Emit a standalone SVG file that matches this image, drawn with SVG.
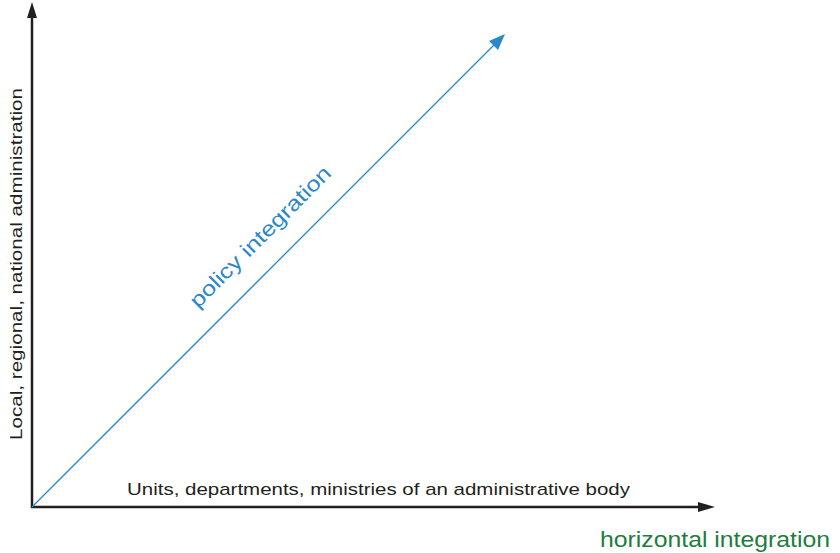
<svg xmlns="http://www.w3.org/2000/svg" width="840" height="553" viewBox="0 0 840 553">
  <style>
    .axis { stroke: #231f20; stroke-width: 2.5; fill: none; }
    .diag { stroke: #2a87c8; stroke-width: 1.3; fill: none; }
    .lbl { font-family: "Liberation Sans", Arial, sans-serif; fill: #231f20; }
    .blue { font-family: "Liberation Sans", Arial, sans-serif; fill: #2a87c8; }
    .green { font-family: "Liberation Sans", Arial, sans-serif; fill: #1e7d3e; }
  </style>
  <rect width="840" height="553" fill="#ffffff"/>
  <g id="connectors">
    <!-- vertical axis -->
    <line class="axis" x1="32" y1="508" x2="32" y2="16"/>
    <polygon points="32,2 37,18 27,18" fill="#231f20"/>
    <!-- horizontal axis -->
    <line class="axis" x1="31" y1="507" x2="700" y2="507"/>
    <polygon points="715,507 698,502 698,512" fill="#231f20"/>
    <!-- diagonal -->
    <line class="diag" x1="32" y1="507" x2="494" y2="45"/>
    <polygon points="505,34 498,50 489,41" fill="#2a87c8"/>
  </g>
  <g id="y-label">
    <text class="lbl" font-size="17" transform="translate(22,440) rotate(-90)" textLength="352" lengthAdjust="spacingAndGlyphs">Local, regional, national administration</text>
  </g>
  <g id="x-label">
    <text class="lbl" font-size="17" x="127" y="495" textLength="503" lengthAdjust="spacingAndGlyphs">Units, departments, ministries of an administrative body</text>
  </g>
  <g id="policy-label">
    <text class="blue" font-size="21" transform="translate(198,309) rotate(-45)" textLength="190" lengthAdjust="spacingAndGlyphs">policy integration</text>
  </g>
  <g id="horizontal-label">
    <text class="green" font-size="22" x="600" y="547" textLength="230" lengthAdjust="spacingAndGlyphs">horizontal integration</text>
  </g>
</svg>
